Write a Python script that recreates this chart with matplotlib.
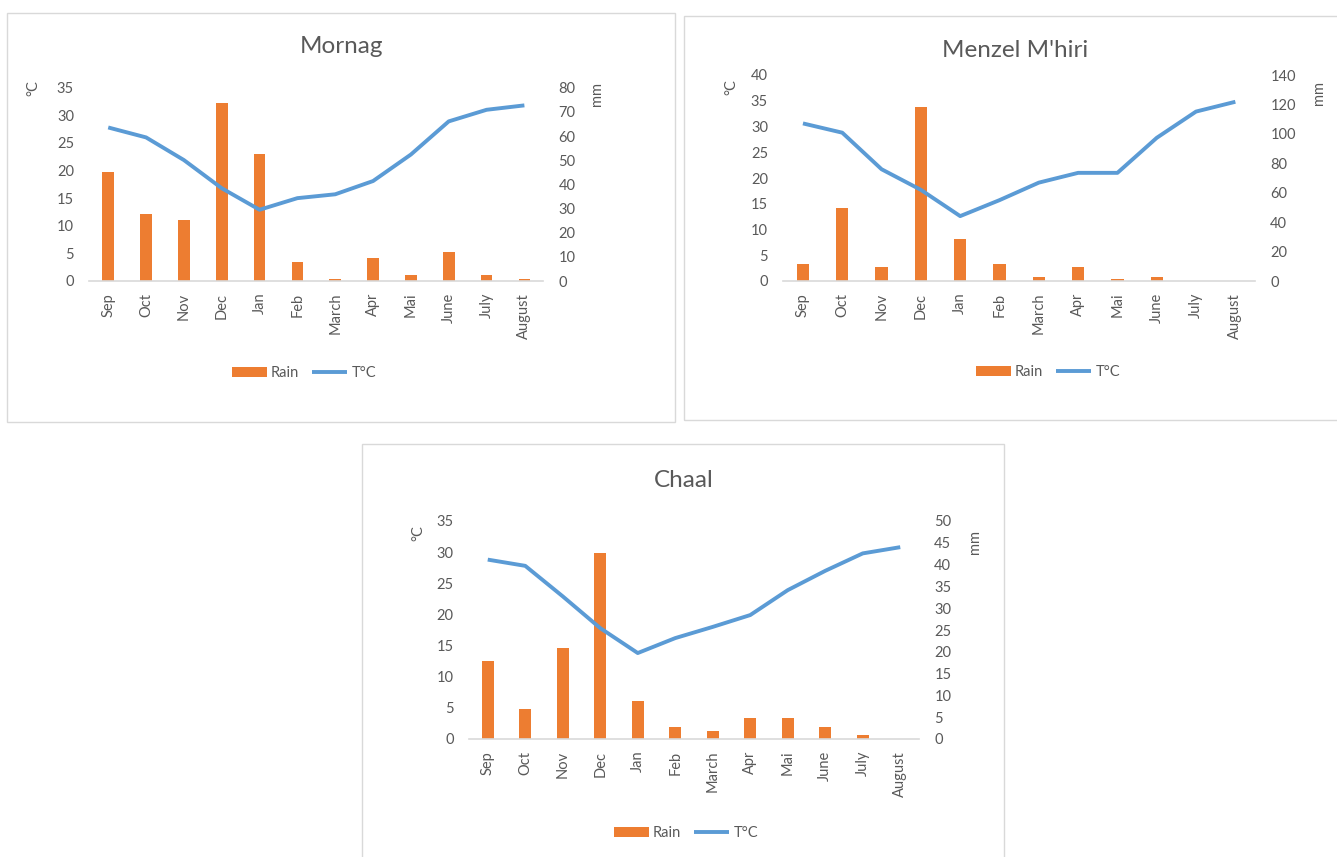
import matplotlib
matplotlib.use("Agg")
import matplotlib.pyplot as plt
from matplotlib.patches import Rectangle

plt.rcParams['font.family'] = ['Lato', 'DejaVu Sans']

months = ["Sep", "Oct", "Nov", "Dec", "Jan", "Feb", "March", "Apr", "Mai", "June", "July", "August"]

mornag_rain = [45.2, 27.7, 25.4, 73.5, 52.4, 7.7, 0.8, 9.5, 2.5, 11.9, 2.5, 0.7]
mornag_temp = [27.8, 26.0, 21.9, 16.8, 12.9, 15.0, 15.7, 18.1, 22.9, 28.9, 31.0, 31.8]

menzel_rain = [11.3, 49.6, 9.7, 118.0, 28.8, 11.3, 2.9, 9.7, 1.1, 2.9, 0.0, 0.0]
menzel_temp = [30.6, 28.8, 21.7, 17.7, 12.6, 15.7, 19.1, 21.0, 21.0, 27.8, 32.9, 34.8]

chaal_rain = [17.8, 6.8, 20.8, 42.7, 8.8, 2.8, 1.8, 4.9, 4.9, 2.8, 0.85, 0.0]
chaal_temp = [28.8, 27.8, 22.9, 17.8, 13.8, 16.2, 18.0, 19.9, 23.9, 27.0, 29.8, 30.8]

W, H = 1337, 857
fig = plt.figure(figsize=(W / 100, H / 100), dpi=100)
fig.patch.set_facecolor("white")

GRAY = "#595959"
ORANGE = "#ED7D31"
BLUE = "#5B9BD5"
BORDER = "#D9D9D9"


def fx(x):
    return x / W


def fy(y):
    return 1 - y / H


def panel_box(x0, y0, x1, y1):
    r = Rectangle((fx(x0), fy(y1)), fx(x1) - fx(x0), fy(y0) - fy(y1),
                  transform=fig.transFigure, fill=False, edgecolor=BORDER, linewidth=1.0)
    fig.patches.append(r)


def chart(title, rain, temp, ax_box, t_max, t_step, r_max, r_step,
          title_xy, degc_xy, mm_xy, legend_xy):
    left, top, right, bottom = ax_box
    ax = fig.add_axes([fx(left), fy(bottom), fx(right) - fx(left), fy(top) - fy(bottom)])
    ax2 = ax.twinx()
    x = list(range(len(months)))
    ax2.bar(x, rain, width=0.31, color=ORANGE, label="Rain", zorder=2)
    ax.plot(x, temp, color=BLUE, linewidth=2.8, label="T°C", zorder=3,
            solid_capstyle="butt", solid_joinstyle="round")
    ax.set_zorder(ax2.get_zorder() + 1)
    ax.patch.set_visible(False)
    ax.set_xlim(-0.5, len(months) - 0.5)
    ax.set_ylim(0, t_max)
    ax2.set_ylim(0, r_max)
    ax.set_yticks(range(0, t_max + 1, t_step))
    ax2.set_yticks(range(0, r_max + 1, r_step))
    ax.set_xticks(x)
    ax.set_xticklabels(months, rotation=90)
    for a in (ax, ax2):
        for s in a.spines.values():
            s.set_visible(False)
        a.tick_params(length=0, labelsize=10.5, labelcolor=GRAY)
    ax.tick_params(axis='y', pad=11)
    ax2.tick_params(axis='y', pad=11)
    ax.tick_params(axis='x', pad=8.5)
    ax.axhline(0, color=BORDER, linewidth=1.2, zorder=1, clip_on=False)
    fig.text(fx(title_xy[0]), fy(title_xy[1]), title, ha="center", va="baseline",
             fontsize=17.5, color=GRAY)
    fig.text(fx(degc_xy[0]), fy(degc_xy[1]), "°C", ha="center", va="center",
             rotation=90, fontsize=10.5, color=GRAY)
    fig.text(fx(mm_xy[0]), fy(mm_xy[1]), "mm", ha="center", va="center",
             rotation=90, fontsize=10.5, color=GRAY)
    h1, l1 = ax2.get_legend_handles_labels()
    h2, l2 = ax.get_legend_handles_labels()
    fig.legend(h1 + h2, l1 + l2, loc="center", ncol=2,
               bbox_to_anchor=(fx(legend_xy[0]), fy(legend_xy[1])),
               bbox_transform=fig.transFigure, frameon=False, fontsize=10.5,
               labelcolor=GRAY, handlelength=2.4, handleheight=0.75,
               handletextpad=0.3, columnspacing=0.9)


panel_box(7, 13, 675, 422)
panel_box(684, 16, 1345, 420)
panel_box(362, 444, 1004, 865)

chart("Mornag", mornag_rain, mornag_temp, (89.3, 87.7, 543.3, 281), 35, 5, 80, 10,
      (341, 53), (33, 88), (597, 94), (304, 373))
chart("Menzel M'hiri", menzel_rain, menzel_temp, (783.3, 75, 1255, 281), 40, 5, 140, 20,
      (1015, 57), (731, 87), (1319, 93), (1048, 372))
chart("Chaal", chaal_rain, chaal_temp, (469, 521, 919, 739), 35, 5, 50, 5,
      (684, 487), (418, 533), (975, 542), (686, 833))

fig.savefig("out.png", dpi=100, facecolor="white")
